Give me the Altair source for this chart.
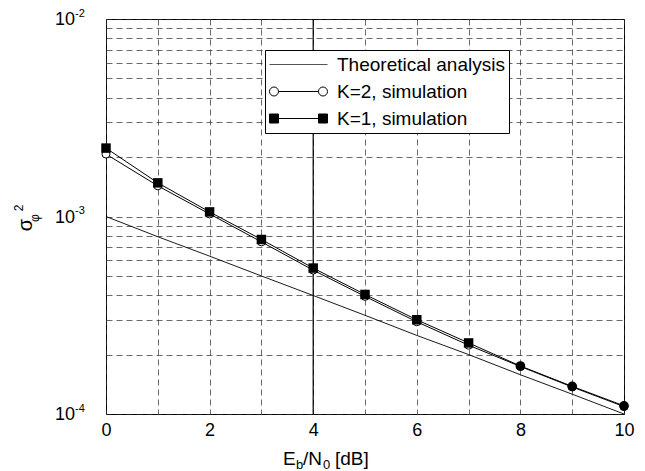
import altair as alt
import pandas as pd

# ---- data ----
ebn0 = [0, 1, 2, 3, 4, 5, 6, 7, 8, 9, 10]
theory = [1.0e-3, 7.9e-4, 6.3e-4, 5.0e-4, 3.98e-4, 3.16e-4, 2.5e-4, 2.0e-4, 1.58e-4, 1.26e-4, 1.0e-4]
k2_sim = [2.07e-3, 1.43e-3, 1.03e-3, 7.44e-4, 5.35e-4, 3.94e-4, 2.93e-4, 2.23e-4, 1.74e-4, 1.37e-4, 1.09e-4]
k1_sim = [2.22e-3, 1.48e-3, 1.055e-3, 7.65e-4, 5.48e-4, 4.03e-4, 3.0e-4, 2.29e-4, 1.75e-4, 1.38e-4, 1.10e-4]
k1_marker = ["square"] * 8 + ["circle"] * 3

legend_labels = ["Theoretical analysis", "K=2, simulation", "K=1, simulation"]
x_ticks = list(range(11))
y_grid = [m * 10.0 ** e for e in (-4, -3) for m in range(1, 10)] + [1e-2]
y_label_vals = [1e-2, 1e-3, 1e-4]
y_label_sup = ["-2", "-3", "-4"]
solid_vline = [4]

FONT = "Liberation Sans"

rows = []
for i, xv in enumerate(ebn0):
    rows.append({"x": xv, "y": theory[i], "series": legend_labels[0], "marker": ""})
    rows.append({"x": xv, "y": k2_sim[i], "series": legend_labels[1], "marker": "circle"})
    rows.append({"x": xv, "y": k1_sim[i], "series": legend_labels[2], "marker": k1_marker[i]})
df = pd.DataFrame(rows)

grid_kw = dict(grid=True, gridDash=[6, 4], gridColor="#2a2a2a", gridWidth=0.7,
               ticks=False, domain=False, title=None)

x_enc = alt.X("x:Q", scale=alt.Scale(domain=[0, 10], nice=False),
              axis=alt.Axis(values=x_ticks, labelExpr="datum.value % 2 == 0 ? datum.label : ''",
                            labelFlush=False, labelFontSize=18, labelFont=FONT,
                            labelColor="black", labelPadding=7, tickSize=0, **grid_kw))
y_enc = alt.Y("y:Q", scale=alt.Scale(type="log", domain=[1e-4, 1e-2], nice=False),
              axis=alt.Axis(values=y_grid, labels=False, tickSize=0, **grid_kw))

base = alt.Chart(df)

def series(name):
    return base.transform_filter(alt.datum.series == name)

theo_line = series(legend_labels[0]).mark_line(color="black", strokeWidth=0.9).encode(x=x_enc, y=y_enc)
k2_line = series(legend_labels[1]).mark_line(color="black", strokeWidth=1).encode(x=x_enc, y=y_enc)
k1_line = series(legend_labels[2]).mark_line(color="black", strokeWidth=1).encode(x=x_enc, y=y_enc)
k2_pts = series(legend_labels[1]).mark_point(
    shape="circle", filled=False, fill="white", stroke="black", strokeWidth=1,
    size=64, opacity=1).encode(x=x_enc, y=y_enc)
k1_sq = series(legend_labels[2]).transform_filter(alt.datum.marker == "square").mark_square(
    color="black", size=90, opacity=1).encode(x=x_enc, y=y_enc)
k1_ci = series(legend_labels[2]).transform_filter(alt.datum.marker == "circle").mark_circle(
    color="black", size=95, opacity=1).encode(x=x_enc, y=y_enc)

vline = alt.Chart(pd.DataFrame({"x": solid_vline})).mark_rule(
    color="black", strokeWidth=1.2).encode(x=x_enc)

# y tick labels 10^k
ylab_df = pd.DataFrame({"y": y_label_vals, "sup": y_label_sup, "base": ["10"] * 3})
ylab = alt.Chart(ylab_df).mark_text(align="right", baseline="middle", fontSize=18,
                                    font=FONT, color="black", dy=1).encode(
    x=alt.value(-31), y=y_enc, text="base:N")
ysup = alt.Chart(ylab_df).mark_text(align="left", baseline="middle", fontSize=11,
                                    font=FONT, color="black", dy=-5.5).encode(
    x=alt.value(-31), y=y_enc, text="sup:N")

# legend via custom symbol paths (unit = 10px; symbol spans 58px to the right of the entry)
p_line = "M-1,0L4.8,0"
p_circ = ("M-0.1,0L3.9,0 M-0.1,0A0.45,0.45 0 1,1 -1,0A0.45,0.45 0 1,1 -0.1,0 "
          "M4.8,0A0.45,0.45 0 1,1 3.9,0A0.45,0.45 0 1,1 4.8,0")
p_sq = "M-0.55,0L4.35,0 M-1,-0.45h0.9v0.9h-0.9z M3.9,-0.45h0.9v0.9h-0.9z"
leg_df = pd.DataFrame({"series": legend_labels, "x": [-50] * 3, "y": [1e-3] * 3})
leg_props = dict(orient="none", legendX=159, legendY=31, title=None, labelFontSize=19,
                 labelFont=FONT, labelColor="black", labelLimit=400, strokeColor="black",
                 fillColor="white", padding=4, symbolSize=400, symbolStrokeWidth=1,
                 labelOffset=47, rowPadding=6)
legend_layer = alt.Chart(leg_df).mark_point(strokeWidth=1, clip=True, opacity=1).encode(
    x=x_enc, y=y_enc,
    shape=alt.Shape("series:N", scale=alt.Scale(domain=legend_labels, range=[p_line, p_circ, p_sq]),
                    legend=alt.Legend(**leg_props)),
    fill=alt.Fill("series:N", scale=alt.Scale(domain=legend_labels, range=["transparent", "white", "black"]),
                  legend=alt.Legend(**leg_props)),
    stroke=alt.Stroke("series:N", scale=alt.Scale(domain=legend_labels, range=["#555555", "black", "black"]),
                      legend=alt.Legend(**leg_props)),
)

# axis titles with sub/superscripts
def txt(s, x, y, size, angle=0, baseline="alphabetic", align="left"):
    kw = dict(fontSize=size, font=FONT, color="black", baseline=baseline, align=align)
    if angle:
        kw["angle"] = angle
    return alt.Chart(pd.DataFrame({"t": [s]})).mark_text(**kw).encode(
        x=alt.value(x), y=alt.value(y), text="t:N")

xt = [txt("E", 177, 446, 19), txt("b", 190, 450, 13), txt("/N", 197, 446, 19),
      txt("0", 217, 450, 13), txt("[dB]", 229, 446, 19)]
yt = [txt("σ", -80, 206, 20, 270, "middle", "center"),
      txt("φ", -71, 199, 12, 270, "middle", "center"),
      txt("2", -87, 189, 12, 270, "middle", "center")]

chart = alt.layer(theo_line, k2_line, k1_line, vline, k2_pts, k1_sq, k1_ci, ylab, ysup,
                  legend_layer, *xt, *yt).properties(
    width=518, height=395, autosize="none",
    padding={"left": 98, "top": 11, "right": 13, "bottom": 57},
    background="white",
).configure_view(stroke="black", strokeWidth=1)

chart.save("out.html", embed_options={"renderer": "svg", "actions": False})
